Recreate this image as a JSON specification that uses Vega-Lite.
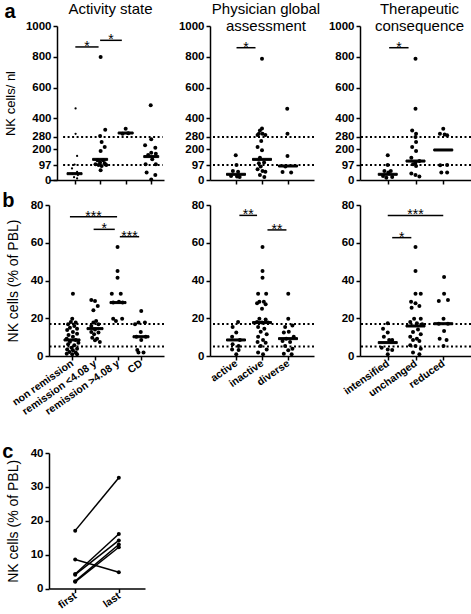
{
"$schema": "https://vega.github.io/schema/vega-lite/v6.json",
"background": "white",
"padding": {"left": 2, "top": 0, "right": 0, "bottom": 0},
"columns": 3,
"spacing": {"row": 25, "column": 46},
"bounds": "flush",
"datasets": {
"ref": [{"p":"a","v":97},{"p":"a","v":280},{"p":"b","v":17},{"p":"b","v":5}],
"med": [
{"p":"a1","k":0,"v":41},{"p":"a1","k":1,"v":134},{"p":"a1","k":2,"v":305},{"p":"a1","k":3,"v":152},
{"p":"a2","k":0,"v":37},{"p":"a2","k":1,"v":134},{"p":"a2","k":2,"v":91},
{"p":"a3","k":0,"v":37},{"p":"a3","k":1,"v":123},{"p":"a3","k":2,"v":195},
{"p":"b1","k":0,"v":8.5},{"p":"b1","k":1,"v":14.5},{"p":"b1","k":2,"v":28.3},{"p":"b1","k":3,"v":10.2},
{"p":"b2","k":0,"v":8.5},{"p":"b2","k":1,"v":17.7},{"p":"b2","k":2,"v":9.2},
{"p":"b3","k":0,"v":7.1},{"p":"b3","k":1,"v":15.9},{"p":"b3","k":2,"v":17.1}],
"brk": [
{"p":"a1","x1":0.03,"x2":0.94,"v":864,"s":"*"},{"p":"a1","x1":1.0,"x2":1.85,"v":907,"s":"*"},
{"p":"a2","x1":0.02,"x2":0.75,"v":859,"s":"*"},
{"p":"a3","x1":0.05,"x2":0.75,"v":859,"s":"*"},
{"p":"b1","x1":-0.09,"x2":1.96,"v":73.8,"s":"***"},{"p":"b1","x1":0.94,"x2":1.86,"v":67.1,"s":"*"},{"p":"b1","x1":2.08,"x2":2.92,"v":63.2,"s":"***"},
{"p":"b2","x1":0.13,"x2":0.81,"v":74.5,"s":"**"},{"p":"b2","x1":1.21,"x2":1.94,"v":66.8,"s":"**"},
{"p":"b3","x1":0.0,"x2":2.0,"v":74.5,"s":"***"},{"p":"b3","x1":0.16,"x2":0.85,"v":62.7,"s":"*"}],
"c": [
{"id":1,"t":0,"v":17.1},{"id":1,"t":1,"v":32.7},
{"id":2,"t":0,"v":8.6},{"id":2,"t":1,"v":4.8},
{"id":3,"t":0,"v":4.3},{"id":3,"t":1,"v":16.1},
{"id":4,"t":0,"v":4.1},{"id":4,"t":1,"v":14.2},
{"id":5,"t":0,"v":2.2},{"id":5,"t":1,"v":13},
{"id":6,"t":0,"v":2},{"id":6,"t":1,"v":12.2}],
"pts": [
{"p":"a1","k":0,"j":0.04,"v":465},{"p":"a1","k":0,"j":0.04,"v":300},{"p":"a1","k":0,"j":0.1,"v":156},{"p":"a1","k":0,"j":0.0,"v":100},{"p":"a1","k":0,"j":-0.1,"v":75},{"p":"a1","k":0,"j":0.1,"v":52},{"p":"a1","k":0,"j":-0.08,"v":40},{"p":"a1","k":0,"j":0.13,"v":32},{"p":"a1","k":0,"j":-0.02,"v":18},{"p":"a1","k":0,"j":0.1,"v":10},
{"p":"a1","k":1,"j":0.02,"v":799},{"p":"a1","k":1,"j":0.2,"v":327},{"p":"a1","k":1,"j":0,"v":286},{"p":"a1","k":1,"j":0.06,"v":247},{"p":"a1","k":1,"j":0.18,"v":214},{"p":"a1","k":1,"j":0.02,"v":188},{"p":"a1","k":1,"j":-0.1,"v":128},{"p":"a1","k":1,"j":0.12,"v":128},{"p":"a1","k":1,"j":0,"v":113},{"p":"a1","k":1,"j":0.18,"v":108},{"p":"a1","k":1,"j":-0.18,"v":102},{"p":"a1","k":1,"j":-0.06,"v":97},{"p":"a1","k":1,"j":0.24,"v":97},{"p":"a1","k":1,"j":0.06,"v":91},{"p":"a1","k":1,"j":0.02,"v":63},
{"p":"a1","k":2,"j":0,"v":333},{"p":"a1","k":2,"j":-0.12,"v":301},{"p":"a1","k":2,"j":0.1,"v":303},
{"p":"a1","k":3,"j":-0.02,"v":485},{"p":"a1","k":3,"j":0,"v":264},{"p":"a1","k":3,"j":-0.24,"v":225},{"p":"a1","k":3,"j":0.16,"v":210},{"p":"a1","k":3,"j":0,"v":177},{"p":"a1","k":3,"j":0.18,"v":171},{"p":"a1","k":3,"j":-0.12,"v":162},{"p":"a1","k":3,"j":0.04,"v":134},{"p":"a1","k":3,"j":-0.22,"v":102},{"p":"a1","k":3,"j":0.18,"v":102},{"p":"a1","k":3,"j":-0.18,"v":48},{"p":"a1","k":3,"j":0.16,"v":32},{"p":"a1","k":3,"j":0,"v":4},
{"p":"a2","k":0,"j":-0.01,"v":160},{"p":"a2","k":0,"j":0.02,"v":97},{"p":"a2","k":0,"j":-0.12,"v":58},{"p":"a2","k":0,"j":0.08,"v":54},{"p":"a2","k":0,"j":-0.19,"v":26},{"p":"a2","k":0,"j":0.04,"v":22},{"p":"a2","k":0,"j":0.14,"v":19},
{"p":"a2","k":1,"j":0,"v":788},{"p":"a2","k":1,"j":0,"v":335},{"p":"a2","k":1,"j":-0.08,"v":322},{"p":"a2","k":1,"j":-0.12,"v":301},{"p":"a2","k":1,"j":0.02,"v":301},{"p":"a2","k":1,"j":0.13,"v":292},{"p":"a2","k":1,"j":-0.17,"v":292},{"p":"a2","k":1,"j":-0.03,"v":253},{"p":"a2","k":1,"j":-0.17,"v":214},{"p":"a2","k":1,"j":0,"v":193},{"p":"a2","k":1,"j":-0.08,"v":145},{"p":"a2","k":1,"j":-0.12,"v":108},{"p":"a2","k":1,"j":0.08,"v":113},{"p":"a2","k":1,"j":-0.05,"v":87},{"p":"a2","k":1,"j":-0.17,"v":69},{"p":"a2","k":1,"j":0.02,"v":58},{"p":"a2","k":1,"j":0.13,"v":54},{"p":"a2","k":1,"j":-0.08,"v":32},{"p":"a2","k":1,"j":0.09,"v":19},
{"p":"a2","k":2,"j":-0.03,"v":463},{"p":"a2","k":2,"j":-0.02,"v":301},{"p":"a2","k":2,"j":-0.02,"v":156},{"p":"a2","k":2,"j":-0.1,"v":87},{"p":"a2","k":2,"j":-0.21,"v":52},{"p":"a2","k":2,"j":0.12,"v":48},
{"p":"a3","k":0,"j":0,"v":160},{"p":"a3","k":0,"j":0,"v":97},{"p":"a3","k":0,"j":-0.12,"v":58},{"p":"a3","k":0,"j":0.11,"v":58},{"p":"a3","k":0,"j":0.02,"v":48},{"p":"a3","k":0,"j":-0.17,"v":26},{"p":"a3","k":0,"j":0.16,"v":19},{"p":"a3","k":0,"j":-0.05,"v":15},
{"p":"a3","k":1,"j":0,"v":788},{"p":"a3","k":1,"j":0,"v":463},{"p":"a3","k":1,"j":-0.12,"v":322},{"p":"a3","k":1,"j":0.02,"v":301},{"p":"a3","k":1,"j":0,"v":279},{"p":"a3","k":1,"j":0.02,"v":247},{"p":"a3","k":1,"j":-0.12,"v":214},{"p":"a3","k":1,"j":0.02,"v":188},{"p":"a3","k":1,"j":-0.15,"v":145},{"p":"a3","k":1,"j":0.14,"v":123},{"p":"a3","k":1,"j":0,"v":113},{"p":"a3","k":1,"j":-0.09,"v":102},{"p":"a3","k":1,"j":0.02,"v":91},{"p":"a3","k":1,"j":-0.15,"v":43},{"p":"a3","k":1,"j":0,"v":32},{"p":"a3","k":1,"j":0.14,"v":22},
{"p":"a3","k":2,"j":0,"v":333},{"p":"a3","k":2,"j":-0.12,"v":301},{"p":"a3","k":2,"j":0.05,"v":295},{"p":"a3","k":2,"j":0.14,"v":290},{"p":"a3","k":2,"j":-0.11,"v":95},{"p":"a3","k":2,"j":0.14,"v":97},{"p":"a3","k":2,"j":-0.07,"v":48},{"p":"a3","k":2,"j":0.14,"v":48},
{"p":"b1","k":0,"j":0.04,"v":33},{"p":"b1","k":0,"j":0.01,"v":19.8},{"p":"b1","k":0,"j":-0.05,"v":18},{"p":"b1","k":0,"j":0.16,"v":17.7},{"p":"b1","k":0,"j":-0.17,"v":16.8},{"p":"b1","k":0,"j":0.1,"v":15.9},{"p":"b1","k":0,"j":-0.09,"v":15},{"p":"b1","k":0,"j":0.22,"v":14.5},{"p":"b1","k":0,"j":-0.21,"v":13.8},{"p":"b1","k":0,"j":0.04,"v":12.7},{"p":"b1","k":0,"j":0.22,"v":11.8},{"p":"b1","k":0,"j":-0.15,"v":11.1},{"p":"b1","k":0,"j":0.04,"v":10.2},{"p":"b1","k":0,"j":-0.23,"v":9.2},{"p":"b1","k":0,"j":0.16,"v":8.5},{"p":"b1","k":0,"j":-0.09,"v":7.6},{"p":"b1","k":0,"j":0.28,"v":7},{"p":"b1","k":0,"j":-0.17,"v":6.2},{"p":"b1","k":0,"j":0.1,"v":5.7},{"p":"b1","k":0,"j":-0.02,"v":4.4},{"p":"b1","k":0,"j":0.22,"v":3.9},{"p":"b1","k":0,"j":-0.21,"v":3.5},{"p":"b1","k":0,"j":0.04,"v":3},{"p":"b1","k":0,"j":-0.11,"v":2.1},{"p":"b1","k":0,"j":0.16,"v":1.8},{"p":"b1","k":0,"j":-0.23,"v":1.2},{"p":"b1","k":0,"j":0.01,"v":0.9},{"p":"b1","k":0,"j":0.22,"v":0.9},
{"p":"b1","k":1,"j":-0.16,"v":29.7},{"p":"b1","k":1,"j":0,"v":29.1},{"p":"b1","k":1,"j":0.12,"v":26.5},{"p":"b1","k":1,"j":-0.07,"v":24.2},{"p":"b1","k":1,"j":0.05,"v":18.5},{"p":"b1","k":1,"j":-0.07,"v":17.7},{"p":"b1","k":1,"j":0.15,"v":16.8},{"p":"b1","k":1,"j":-0.16,"v":15.9},{"p":"b1","k":1,"j":0,"v":14.1},{"p":"b1","k":1,"j":-0.16,"v":12.7},{"p":"b1","k":1,"j":0.15,"v":12.4},{"p":"b1","k":1,"j":-0.04,"v":11.5},{"p":"b1","k":1,"j":-0.12,"v":9.7},{"p":"b1","k":1,"j":0.09,"v":9.2},{"p":"b1","k":1,"j":0,"v":8.3},{"p":"b1","k":1,"j":0.21,"v":7.4},
{"p":"b1","k":2,"j":-0.02,"v":57.7},{"p":"b1","k":2,"j":-0.02,"v":45},{"p":"b1","k":2,"j":-0.02,"v":41.5},{"p":"b1","k":2,"j":-0.27,"v":33},{"p":"b1","k":2,"j":0.12,"v":33},{"p":"b1","k":2,"j":0.04,"v":28.8},{"p":"b1","k":2,"j":-0.21,"v":28.3},{"p":"b1","k":2,"j":0.2,"v":28.3},{"p":"b1","k":2,"j":-0.21,"v":19.8},{"p":"b1","k":2,"j":0.18,"v":19.8},{"p":"b1","k":2,"j":-0.09,"v":18.5},
{"p":"b1","k":3,"j":0.01,"v":23.8},{"p":"b1","k":3,"j":-0.11,"v":17.7},{"p":"b1","k":3,"j":0.17,"v":17.7},{"p":"b1","k":3,"j":-0.26,"v":16.8},{"p":"b1","k":3,"j":-0.01,"v":12.7},{"p":"b1","k":3,"j":0.21,"v":10.2},{"p":"b1","k":3,"j":-0.2,"v":10.2},{"p":"b1","k":3,"j":0.01,"v":8.5},{"p":"b1","k":3,"j":-0.16,"v":3.2},{"p":"b1","k":3,"j":0.11,"v":1.8},{"p":"b1","k":3,"j":-0.11,"v":1.8},
{"p":"b2","k":0,"j":0.08,"v":18},{"p":"b2","k":0,"j":-0.13,"v":15.4},{"p":"b2","k":0,"j":0.01,"v":12.4},{"p":"b2","k":0,"j":-0.15,"v":10.2},{"p":"b2","k":0,"j":0.15,"v":8.5},{"p":"b2","k":0,"j":-0.13,"v":6.2},{"p":"b2","k":0,"j":0.1,"v":5.3},{"p":"b2","k":0,"j":-0.15,"v":3.5},{"p":"b2","k":0,"j":0.1,"v":3.2},{"p":"b2","k":0,"j":0.01,"v":0.9},
{"p":"b2","k":1,"j":0.02,"v":57.7},{"p":"b2","k":1,"j":0.02,"v":45},{"p":"b2","k":1,"j":0.02,"v":41.5},{"p":"b2","k":1,"j":-0.15,"v":33},{"p":"b2","k":1,"j":0.16,"v":33},{"p":"b2","k":1,"j":-0.1,"v":28.8},{"p":"b2","k":1,"j":0.07,"v":28.8},{"p":"b2","k":1,"j":-0.19,"v":27.9},{"p":"b2","k":1,"j":0.14,"v":27.4},{"p":"b2","k":1,"j":0,"v":25},{"p":"b2","k":1,"j":-0.1,"v":19.8},{"p":"b2","k":1,"j":0.14,"v":19.4},{"p":"b2","k":1,"j":-0.19,"v":18},{"p":"b2","k":1,"j":0,"v":17.7},{"p":"b2","k":1,"j":0.23,"v":17.7},{"p":"b2","k":1,"j":-0.15,"v":15.4},{"p":"b2","k":1,"j":0.09,"v":14.5},{"p":"b2","k":1,"j":-0.05,"v":12.9},{"p":"b2","k":1,"j":0.18,"v":11.5},{"p":"b2","k":1,"j":-0.15,"v":10.2},{"p":"b2","k":1,"j":0.04,"v":8.5},{"p":"b2","k":1,"j":-0.17,"v":7.4},{"p":"b2","k":1,"j":0.14,"v":7},{"p":"b2","k":1,"j":-0.05,"v":5.3},{"p":"b2","k":1,"j":0.18,"v":3.5},{"p":"b2","k":1,"j":-0.15,"v":1.8},{"p":"b2","k":1,"j":0.04,"v":0.9},
{"p":"b2","k":2,"j":0.01,"v":33},{"p":"b2","k":2,"j":0.01,"v":19.8},{"p":"b2","k":2,"j":0.17,"v":16.2},{"p":"b2","k":2,"j":-0.11,"v":15.4},{"p":"b2","k":2,"j":0.03,"v":12.9},{"p":"b2","k":2,"j":-0.16,"v":12.4},{"p":"b2","k":2,"j":0.22,"v":10.2},{"p":"b2","k":2,"j":-0.07,"v":9.2},{"p":"b2","k":2,"j":-0.21,"v":7.9},{"p":"b2","k":2,"j":0.08,"v":7.4},{"p":"b2","k":2,"j":-0.11,"v":5.3},{"p":"b2","k":2,"j":0.17,"v":3.9},{"p":"b2","k":2,"j":0.01,"v":3},{"p":"b2","k":2,"j":-0.16,"v":1.2},{"p":"b2","k":2,"j":0.14,"v":0.9},
{"p":"b3","k":0,"j":0,"v":17.3},{"p":"b3","k":0,"j":-0.17,"v":14.5},{"p":"b3","k":0,"j":0,"v":12.4},{"p":"b3","k":0,"j":-0.14,"v":10.2},{"p":"b3","k":0,"j":0.05,"v":8.5},{"p":"b3","k":0,"j":0.16,"v":8.5},{"p":"b3","k":0,"j":-0.22,"v":4.4},{"p":"b3","k":0,"j":0,"v":3.5},{"p":"b3","k":0,"j":0.16,"v":3.2},{"p":"b3","k":0,"j":0,"v":0.9},
{"p":"b3","k":1,"j":0,"v":57.7},{"p":"b3","k":1,"j":0,"v":45},{"p":"b3","k":1,"j":0,"v":33},{"p":"b3","k":1,"j":0.19,"v":33},{"p":"b3","k":1,"j":-0.16,"v":28.8},{"p":"b3","k":1,"j":0,"v":27.9},{"p":"b3","k":1,"j":0.14,"v":26.5},{"p":"b3","k":1,"j":-0.14,"v":25.6},{"p":"b3","k":1,"j":-0.05,"v":19.8},{"p":"b3","k":1,"j":0.19,"v":19.8},{"p":"b3","k":1,"j":-0.19,"v":18},{"p":"b3","k":1,"j":0.05,"v":17.3},{"p":"b3","k":1,"j":0.24,"v":16.8},{"p":"b3","k":1,"j":0.09,"v":14.1},{"p":"b3","k":1,"j":-0.09,"v":12.7},{"p":"b3","k":1,"j":0.19,"v":11.5},{"p":"b3","k":1,"j":-0.19,"v":10.2},{"p":"b3","k":1,"j":0.05,"v":9.2},{"p":"b3","k":1,"j":-0.09,"v":8.5},{"p":"b3","k":1,"j":0.14,"v":7.9},{"p":"b3","k":1,"j":-0.19,"v":5.7},{"p":"b3","k":1,"j":0,"v":5.3},{"p":"b3","k":1,"j":0.19,"v":3.9},{"p":"b3","k":1,"j":-0.09,"v":1.8},{"p":"b3","k":1,"j":0.14,"v":0.9},
{"p":"b3","k":2,"j":0.03,"v":41.9},{"p":"b3","k":2,"j":0.03,"v":33},{"p":"b3","k":2,"j":-0.16,"v":29.1},{"p":"b3","k":2,"j":0.17,"v":29.7},{"p":"b3","k":2,"j":0.01,"v":19.8},{"p":"b3","k":2,"j":-0.16,"v":17.1},{"p":"b3","k":2,"j":0.17,"v":17.1},{"p":"b3","k":2,"j":0.03,"v":13.2},{"p":"b3","k":2,"j":-0.13,"v":9.2},{"p":"b3","k":2,"j":0.12,"v":8.5},{"p":"b3","k":2,"j":0.01,"v":5.3}
]
},
"concat": [
{"width": 115, "height": 0.001, "data": {"values": []}, "mark": "point",
 "title": {"text": "Activity state", "orient": "bottom", "offset": 0, "fontSize": 15, "fontWeight": "normal", "dx": 4, "dy": 2}},
{"width": 104, "height": 0.001, "data": {"values": []}, "mark": "point",
 "title": {"text": ["Physician global", "assessment"], "orient": "bottom", "offset": 0, "fontSize": 15, "fontWeight": "normal", "lineHeight": 17, "dx": 4, "dy": 2}},
{"width": 111, "height": 0.001, "data": {"values": []}, "mark": "point",
 "title": {"text": ["Therapeutic", "consequence"], "orient": "bottom", "offset": 0, "fontSize": 15, "fontWeight": "normal", "lineHeight": 17, "dx": 4, "dy": 2}},

{"width": 115, "height": 154,
 "title": {"text": "a", "anchor": "start", "frame": "bounds", "fontSize": 20, "fontWeight": "bold", "offset": 0, "dy": 2},
 "layer": [
  {"data": {"name": "ref"}, "transform": [{"filter": "datum.p=='a'"}],
   "mark": {"type": "rule", "strokeDash": [2, 2.5], "strokeWidth": 2, "stroke": "black", "opacity": 1},
   "encoding": {"y": {"field": "v", "type": "quantitative", "axis": {"values": [0,97,200,280,400,600,800,1000], "format": "d", "tickCount": 50, "title": "NK cells/ nl", "titleFontSize": 13, "titlePadding": 8, "offset": -8}}, "x": {"datum": -0.448}, "x2": {"datum": 3.448}}},
  {"data": {"name": "pts"}, "transform": [{"filter": "datum.p=='a1' && datum.k>0"}, {"calculate": "datum.k+datum.j", "as": "xp"}],
   "mark": {"type": "circle", "size": 16, "fill": "black", "opacity": 1},
   "encoding": {
    "x": {"field": "xp", "type": "quantitative", "scale": {"domain": [-0.739, 3.448]}, "axis": {"values": [0,1,2,3], "tickCount": 50, "labels": false, "title": null}},
    "y": {"field": "v", "type": "quantitative", "scale": {"domain": [0, 1000], "nice": false}, "axis": {"values": [0,97,200,280,400,600,800,1000], "format": "d", "tickCount": 50, "title": "NK cells/ nl", "titleFontSize": 13, "titlePadding": 8, "offset": -8}}}},
  {"data": {"name": "pts"}, "transform": [{"filter": "datum.p=='a1' && datum.k==0"}, {"calculate": "datum.k+datum.j", "as": "xp"}],
   "mark": {"type": "circle", "size": 5, "fill": "black", "opacity": 1},
   "encoding": {"x": {"field": "xp", "type": "quantitative"}, "y": {"field": "v", "type": "quantitative"}}},
  {"data": {"name": "med"}, "transform": [{"filter": "datum.p=='a1'"}],
   "mark": {"type": "tick", "orient": "horizontal", "size": 15, "thickness": 2, "fill": "black", "stroke": "black", "opacity": 1},
   "encoding": {"x": {"field": "k", "type": "quantitative"}, "y": {"field": "v", "type": "quantitative"}}},
  {"data": {"name": "brk"}, "transform": [{"filter": "datum.p=='a1'"}],
   "mark": {"type": "rule", "strokeWidth": 1.5, "stroke": "black", "opacity": 1},
   "encoding": {"x": {"field": "x1", "type": "quantitative"}, "x2": {"field": "x2"}, "y": {"field": "v", "type": "quantitative"}}},
  {"data": {"name": "brk"}, "transform": [{"filter": "datum.p=='a1'"}, {"calculate": "(datum.x1+datum.x2)/2", "as": "xm"}],
   "mark": {"type": "text", "fontSize": 14, "baseline": "alphabetic", "dy": 4, "fill": "black", "opacity": 1},
   "encoding": {"x": {"field": "xm", "type": "quantitative"}, "y": {"field": "v", "type": "quantitative"}, "text": {"field": "s"}}}
 ]},

{"width": 104, "height": 154,
 "layer": [
  {"data": {"name": "ref"}, "transform": [{"filter": "datum.p=='a'"}],
   "mark": {"type": "rule", "strokeDash": [2, 2.5], "strokeWidth": 2, "stroke": "black", "opacity": 1},
   "encoding": {"y": {"field": "v", "type": "quantitative", "axis": {"values": [0,97,200,280,400,600,800,1000], "format": "d", "tickCount": 50, "title": null}}}},
  {"data": {"name": "pts"}, "transform": [{"filter": "datum.p=='a2'"}, {"calculate": "datum.k+datum.j", "as": "xp"}],
   "mark": {"type": "circle", "size": 16, "fill": "black", "opacity": 1},
   "encoding": {
    "x": {"field": "xp", "type": "quantitative", "scale": {"domain": [-0.501, 2.445]}, "axis": {"values": [0,1,2], "tickCount": 50, "labels": false, "title": null}},
    "y": {"field": "v", "type": "quantitative", "scale": {"domain": [0, 1000], "nice": false}, "axis": {"values": [0,97,200,280,400,600,800,1000], "format": "d", "tickCount": 50, "title": null}}}},
  {"data": {"name": "med"}, "transform": [{"filter": "datum.p=='a2'"}],
   "mark": {"type": "tick", "orient": "horizontal", "size": 19, "thickness": 2, "fill": "black", "stroke": "black", "opacity": 1},
   "encoding": {"x": {"field": "k", "type": "quantitative"}, "y": {"field": "v", "type": "quantitative"}}},
  {"data": {"name": "brk"}, "transform": [{"filter": "datum.p=='a2'"}],
   "mark": {"type": "rule", "strokeWidth": 1.5, "stroke": "black", "opacity": 1},
   "encoding": {"x": {"field": "x1", "type": "quantitative"}, "x2": {"field": "x2"}, "y": {"field": "v", "type": "quantitative"}}},
  {"data": {"name": "brk"}, "transform": [{"filter": "datum.p=='a2'"}, {"calculate": "(datum.x1+datum.x2)/2", "as": "xm"}],
   "mark": {"type": "text", "fontSize": 14, "baseline": "alphabetic", "dy": 4, "fill": "black", "opacity": 1},
   "encoding": {"x": {"field": "xm", "type": "quantitative"}, "y": {"field": "v", "type": "quantitative"}, "text": {"field": "s"}}}
 ]},

{"width": 111, "height": 154,
 "layer": [
  {"data": {"name": "ref"}, "transform": [{"filter": "datum.p=='a'"}],
   "mark": {"type": "rule", "strokeDash": [2, 2.5], "strokeWidth": 2, "stroke": "black", "opacity": 1},
   "encoding": {"y": {"field": "v", "type": "quantitative", "axis": {"values": [0,97,200,280,400,600,800,1000], "format": "d", "tickCount": 50, "title": null}}}},
  {"data": {"name": "pts"}, "transform": [{"filter": "datum.p=='a3'"}, {"calculate": "datum.k+datum.j", "as": "xp"}],
   "mark": {"type": "circle", "size": 16, "fill": "black", "opacity": 1},
   "encoding": {
    "x": {"field": "xp", "type": "quantitative", "scale": {"domain": [-0.594, 2.546]}, "axis": {"values": [0,1,2], "tickCount": 50, "labels": false, "title": null}},
    "y": {"field": "v", "type": "quantitative", "scale": {"domain": [0, 1000], "nice": false}, "axis": {"values": [0,97,200,280,400,600,800,1000], "format": "d", "tickCount": 50, "title": null}}}},
  {"data": {"name": "med"}, "transform": [{"filter": "datum.p=='a3'"}],
   "mark": {"type": "tick", "orient": "horizontal", "size": 19, "thickness": 2, "fill": "black", "stroke": "black", "opacity": 1},
   "encoding": {"x": {"field": "k", "type": "quantitative"}, "y": {"field": "v", "type": "quantitative"}}},
  {"data": {"name": "brk"}, "transform": [{"filter": "datum.p=='a3'"}],
   "mark": {"type": "rule", "strokeWidth": 1.5, "stroke": "black", "opacity": 1},
   "encoding": {"x": {"field": "x1", "type": "quantitative"}, "x2": {"field": "x2"}, "y": {"field": "v", "type": "quantitative"}}},
  {"data": {"name": "brk"}, "transform": [{"filter": "datum.p=='a3'"}, {"calculate": "(datum.x1+datum.x2)/2", "as": "xm"}],
   "mark": {"type": "text", "fontSize": 14, "baseline": "alphabetic", "dy": 4, "fill": "black", "opacity": 1},
   "encoding": {"x": {"field": "xm", "type": "quantitative"}, "y": {"field": "v", "type": "quantitative"}, "text": {"field": "s"}}}
 ]},

{"width": 115, "height": 151,
 "title": {"text": "b", "anchor": "start", "frame": "bounds", "fontSize": 20, "fontWeight": "bold", "offset": 0, "dx": -4, "dy": 12},
 "layer": [
  {"data": {"name": "ref"}, "transform": [{"filter": "datum.p=='b'"}],
   "mark": {"type": "rule", "strokeDash": [2, 2.5], "strokeWidth": 2, "stroke": "black", "opacity": 1},
   "encoding": {"y": {"field": "v", "type": "quantitative", "axis": {"values": [0,20,40,60,80], "tickCount": 50, "title": "NK cells (% of PBL)"}}}},
  {"data": {"name": "pts"}, "transform": [{"filter": "datum.p=='b1'"}, {"calculate": "datum.k+datum.j", "as": "xp"}],
   "mark": {"type": "circle", "size": 16, "fill": "black", "opacity": 1},
   "encoding": {
    "x": {"field": "xp", "type": "quantitative", "scale": {"domain": [-0.651, 3.577]}, "axis": {"values": [0,1,2,3], "tickCount": 50, "title": null, "labelAngle": -35, "labelAlign": "right", "labelBaseline": "middle", "labelFontSize": 10.5, "labelExpr": "['non remission','remission <4.08 y','remission >4.08 y','CD'][datum.value]"}},
    "y": {"field": "v", "type": "quantitative", "scale": {"domain": [0, 80], "nice": false}, "axis": {"values": [0,20,40,60,80], "tickCount": 50, "title": "NK cells (% of PBL)"}}}},
  {"data": {"name": "med"}, "transform": [{"filter": "datum.p=='b1'"}],
   "mark": {"type": "tick", "orient": "horizontal", "size": 16, "thickness": 2, "fill": "black", "stroke": "black", "opacity": 1},
   "encoding": {"x": {"field": "k", "type": "quantitative"}, "y": {"field": "v", "type": "quantitative"}}},
  {"data": {"name": "brk"}, "transform": [{"filter": "datum.p=='b1'"}],
   "mark": {"type": "rule", "strokeWidth": 1.5, "stroke": "black", "opacity": 1},
   "encoding": {"x": {"field": "x1", "type": "quantitative"}, "x2": {"field": "x2"}, "y": {"field": "v", "type": "quantitative"}}},
  {"data": {"name": "brk"}, "transform": [{"filter": "datum.p=='b1'"}, {"calculate": "(datum.x1+datum.x2)/2", "as": "xm"}],
   "mark": {"type": "text", "fontSize": 14, "baseline": "alphabetic", "dy": 4, "fill": "black", "opacity": 1},
   "encoding": {"x": {"field": "xm", "type": "quantitative"}, "y": {"field": "v", "type": "quantitative"}, "text": {"field": "s"}}}
 ]},

{"width": 104, "height": 151,
 "layer": [
  {"data": {"name": "ref"}, "transform": [{"filter": "datum.p=='b'"}],
   "mark": {"type": "rule", "strokeDash": [2, 2.5], "strokeWidth": 2, "stroke": "black", "opacity": 1},
   "encoding": {"y": {"field": "v", "type": "quantitative", "axis": {"values": [0,20,40,60,80], "tickCount": 50, "title": null}}}},
  {"data": {"name": "pts"}, "transform": [{"filter": "datum.p=='b2'"}, {"calculate": "datum.k+datum.j", "as": "xp"}],
   "mark": {"type": "circle", "size": 16, "fill": "black", "opacity": 1},
   "encoding": {
    "x": {"field": "xp", "type": "quantitative", "scale": {"domain": [-0.507, 2.423]}, "axis": {"values": [0,1,2], "tickCount": 50, "title": null, "labelAngle": -35, "labelAlign": "right", "labelBaseline": "middle", "labelFontSize": 10.5, "labelExpr": "['active','inactive','diverse'][datum.value]"}},
    "y": {"field": "v", "type": "quantitative", "scale": {"domain": [0, 80], "nice": false}, "axis": {"values": [0,20,40,60,80], "tickCount": 50, "title": null}}}},
  {"data": {"name": "med"}, "transform": [{"filter": "datum.p=='b2'"}],
   "mark": {"type": "tick", "orient": "horizontal", "size": 19, "thickness": 2, "fill": "black", "stroke": "black", "opacity": 1},
   "encoding": {"x": {"field": "k", "type": "quantitative"}, "y": {"field": "v", "type": "quantitative"}}},
  {"data": {"name": "brk"}, "transform": [{"filter": "datum.p=='b2'"}],
   "mark": {"type": "rule", "strokeWidth": 1.5, "stroke": "black", "opacity": 1},
   "encoding": {"x": {"field": "x1", "type": "quantitative"}, "x2": {"field": "x2"}, "y": {"field": "v", "type": "quantitative"}}},
  {"data": {"name": "brk"}, "transform": [{"filter": "datum.p=='b2'"}, {"calculate": "(datum.x1+datum.x2)/2", "as": "xm"}],
   "mark": {"type": "text", "fontSize": 14, "baseline": "alphabetic", "dy": 4, "fill": "black", "opacity": 1},
   "encoding": {"x": {"field": "xm", "type": "quantitative"}, "y": {"field": "v", "type": "quantitative"}, "text": {"field": "s"}}}
 ]},

{"width": 111, "height": 151,
 "layer": [
  {"data": {"name": "ref"}, "transform": [{"filter": "datum.p=='b'"}],
   "mark": {"type": "rule", "strokeDash": [2, 2.5], "strokeWidth": 2, "stroke": "black", "opacity": 1},
   "encoding": {"y": {"field": "v", "type": "quantitative", "axis": {"values": [0,20,40,60,80], "tickCount": 50, "title": null}}}},
  {"data": {"name": "pts"}, "transform": [{"filter": "datum.p=='b3'"}, {"calculate": "datum.k+datum.j", "as": "xp"}],
   "mark": {"type": "circle", "size": 16, "fill": "black", "opacity": 1},
   "encoding": {
    "x": {"field": "xp", "type": "quantitative", "scale": {"domain": [-0.594, 2.546]}, "axis": {"values": [0,1,2], "tickCount": 50, "title": null, "labelAngle": -35, "labelAlign": "right", "labelBaseline": "middle", "labelFontSize": 10.5, "labelExpr": "['intensified','unchanged','reduced'][datum.value]"}},
    "y": {"field": "v", "type": "quantitative", "scale": {"domain": [0, 80], "nice": false}, "axis": {"values": [0,20,40,60,80], "tickCount": 50, "title": null}}}},
  {"data": {"name": "med"}, "transform": [{"filter": "datum.p=='b3'"}],
   "mark": {"type": "tick", "orient": "horizontal", "size": 19, "thickness": 2, "fill": "black", "stroke": "black", "opacity": 1},
   "encoding": {"x": {"field": "k", "type": "quantitative"}, "y": {"field": "v", "type": "quantitative"}}},
  {"data": {"name": "brk"}, "transform": [{"filter": "datum.p=='b3'"}],
   "mark": {"type": "rule", "strokeWidth": 1.5, "stroke": "black", "opacity": 1},
   "encoding": {"x": {"field": "x1", "type": "quantitative"}, "x2": {"field": "x2"}, "y": {"field": "v", "type": "quantitative"}}},
  {"data": {"name": "brk"}, "transform": [{"filter": "datum.p=='b3'"}, {"calculate": "(datum.x1+datum.x2)/2", "as": "xm"}],
   "mark": {"type": "text", "fontSize": 14, "baseline": "alphabetic", "dy": 4, "fill": "black", "opacity": 1},
   "encoding": {"x": {"field": "xm", "type": "quantitative"}, "y": {"field": "v", "type": "quantitative"}, "text": {"field": "s"}}}
 ]},

{"width": 115, "height": 46.7, "data": {"values": []}, "mark": "point"},
{"width": 104, "height": 46.7, "data": {"values": []}, "mark": "point"},
{"width": 111, "height": 46.7, "data": {"values": []}, "mark": "point"},

{"width": 96, "height": 135.6,
 "title": {"text": "c", "anchor": "start", "frame": "bounds", "fontSize": 20, "fontWeight": "bold", "offset": 0, "dx": -4, "dy": 15},
 "layer": [
  {"data": {"name": "c"},
   "mark": {"type": "line", "stroke": "black", "strokeWidth": 1.5, "opacity": 1},
   "encoding": {
    "x": {"field": "t", "type": "quantitative", "scale": {"domain": [-0.513, 1.513]}, "axis": {"values": [0,1], "tickCount": 50, "title": null, "labelAngle": -35, "labelAlign": "right", "labelBaseline": "middle", "labelFontSize": 10.5, "labelExpr": "['first','last'][datum.value]"}},
    "y": {"field": "v", "type": "quantitative", "scale": {"domain": [0, 40], "nice": false}, "axis": {"values": [0,10,20,30,40], "tickCount": 50, "title": "NK cells (% of PBL)"}},
    "detail": {"field": "id"}}},
  {"data": {"name": "c"},
   "mark": {"type": "circle", "size": 16, "fill": "black", "opacity": 1},
   "encoding": {"x": {"field": "t", "type": "quantitative"}, "y": {"field": "v", "type": "quantitative", "axis": {"values": [0,10,20,30,40], "tickCount": 50, "title": "NK cells (% of PBL)"}}}}
 ]}
],
"config": {
 "view": {"stroke": null},
 "font": "Liberation Sans",
 "title": {"font": "Liberation Sans", "color": "black"},
 "axis": {"domainColor": "black", "domainWidth": 1.5, "tickColor": "black", "tickWidth": 1.5, "tickSize": 4, "labelColor": "black", "labelFont": "Liberation Sans", "labelFontWeight": "bold", "labelFontSize": 11.5, "labelPadding": 2, "titleColor": "black", "titleFont": "Liberation Sans", "titleFontWeight": "normal", "titleFontSize": 14, "titlePadding": 10, "grid": false, "labelOverlap": false, "labelFlush": false}
}
}
